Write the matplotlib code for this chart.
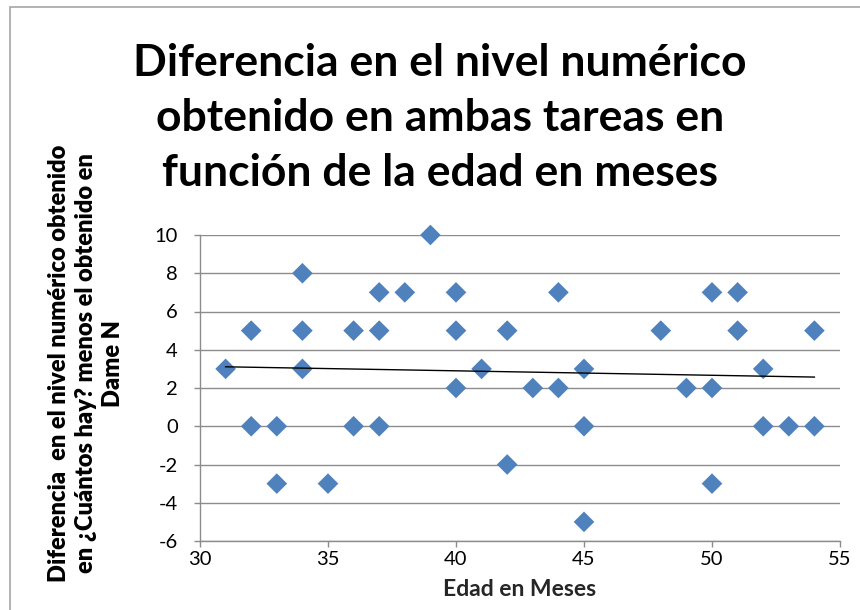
import numpy as np
import matplotlib
matplotlib.use('Agg')
import matplotlib.pyplot as plt
from matplotlib.patches import Rectangle

# Edad en meses y diferencia de nivel numérico
edad = [31, 32, 32, 33, 33, 34, 34, 34, 35, 36, 36, 37, 37, 37, 38, 39,
        40, 40, 40, 41, 42, 42, 43, 44, 44, 45, 45, 45, 48, 49, 50, 50,
        50, 51, 51, 52, 52, 53, 54, 54]
diferencia = [3, 5, 0, 0, -3, 8, 5, 3, -3, 5, 0, 7, 5, 0, 7, 10,
              7, 5, 2, 3, 5, -2, 2, 7, 2, 3, 0, -5, 5, 2, 7, 2,
              -3, 7, 5, 3, 0, 0, 5, 0]

x_ticks = [30, 35, 40, 45, 50, 55]
y_ticks = [-6, -4, -2, 0, 2, 4, 6, 8, 10]

titulo = 'Diferencia en el nivel numérico\nobtenido en ambas tareas en\nfunción de la edad en meses'
etiqueta_y = ('Diferencia  en el nivel numérico obtenido\n'
              'en ¿Cuántos hay? menos el obtenido en\nDame N')
etiqueta_x = 'Edad en Meses'

plt.rcParams['font.family'] = ['Lato', 'DejaVu Sans']
plt.rcParams['axes.unicode_minus'] = False

fig = plt.figure(figsize=(8.6, 6.1), dpi=100)
# borde del gráfico
fig.patches.append(Rectangle((10 / 860, -0.05), 1.2, (603 / 610) + 0.05,
                             transform=fig.transFigure, fill=False,
                             edgecolor='#a6a6a6', linewidth=1.2))

ax = fig.add_axes([200 / 860, 69 / 610, 640 / 860, 306 / 610])

ax.scatter(edad, diferencia, marker='D', s=10.5 ** 2, color='#4f81bd',
           edgecolors='none', zorder=3, clip_on=False)

# línea de tendencia lineal
m, b = np.polyfit(edad, diferencia, 1)
xt = np.array([min(edad), max(edad)])
ax.plot(xt, m * xt + b, color='black', linewidth=1, zorder=4)

ax.set_xlim(30, 55)
ax.set_ylim(-6, 10)
ax.set_xticks(x_ticks)
ax.set_yticks(y_ticks)
ax.grid(axis='y', color='#8c8c8c', linewidth=1)
ax.set_axisbelow(True)

for s in ['top', 'right']:
    ax.spines[s].set_visible(False)
for s in ['left', 'bottom']:
    ax.spines[s].set_color('#8c8c8c')
    ax.spines[s].set_linewidth(1)

ax.tick_params(axis='both', colors='#8c8c8c', labelcolor='black',
               labelsize=14.5, length=4, width=1)
ax.tick_params(axis='y', pad=12)
ax.tick_params(axis='x', pad=3)

ax.set_xlabel(etiqueta_x, fontsize=16.5, fontweight='bold', color='#262626',
              labelpad=8)
ax.set_ylabel(etiqueta_y, fontsize=17, fontweight='heavy', linespacing=1.3)
ax.yaxis.set_label_coords(-0.118, 0.58)

fig.text(440 / 860, 1 - 118 / 610, titulo, ha='center', va='center',
         fontsize=32, fontweight='bold', linespacing=1.45)

fig.savefig('out.png', dpi=100)
